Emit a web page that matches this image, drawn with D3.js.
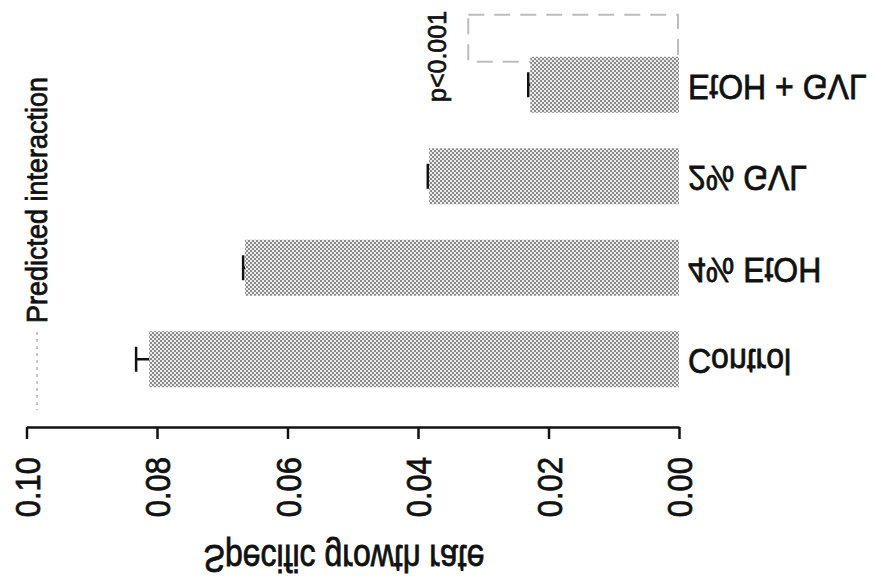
<!DOCTYPE html>
<html>
<head>
<meta charset="utf-8">
<script src="https://cdn.jsdelivr.net/npm/d3@7"></script>
<style>
  body { margin: 0; background: #fff; }
  svg { display: block; font-family: "Liberation Sans", Arial, sans-serif; }
  .lbl { fill: #111; stroke: #111; stroke-width: 0.7px; }
</style>
</head>
<body>
<svg id="chart" width="876" height="585"></svg>
<script>
"use strict";

// data
var categories = ["Control", "4% EtOH", "2% GVL", "EtOH + GVL"];
var growthRate = [0.0812, 0.0665, 0.0383, 0.0228];
var errors = [0.0020, 0.0003, 0.0002, 0.0003];
var predictedCategory = "EtOH + GVL";
var predictedRate = 0.0323;
var tickValues = [0, 0.02, 0.04, 0.06, 0.08, 0.10];

var svg = d3.select("#chart");

// value axis runs right to left, categories bottom to top
var x = d3.scaleLinear().domain([0, 0.1]).range([679, 26.5]);
var y = d3.scaleBand()
    .domain(categories.slice().reverse())
    .range([39, 405])
    .paddingInner(0.388)
    .paddingOuter(0.194);
var bw = y.bandwidth();

// halftone grey fill of the bars
var pat = svg.append("defs").append("pattern")
    .attr("id", "halftone")
    .attr("width", 4).attr("height", 4)
    .attr("patternUnits", "userSpaceOnUse");
pat.append("rect").attr("width", 4).attr("height", 4).attr("fill", "#ebebeb");
pat.append("rect").attr("x", 0).attr("y", 0).attr("width", 2).attr("height", 2).attr("fill", "#8c8c8c");
pat.append("rect").attr("x", 2).attr("y", 2).attr("width", 2).attr("height", 2).attr("fill", "#8c8c8c");

var rows = categories.map(function(c, i) {
    return {cat: c, val: growthRate[i], err: errors[i]};
});

// predicted interaction box (dashed), drawn under the bar
svg.append("rect")
    .attr("x", x(predictedRate))
    .attr("y", y(predictedCategory) - 0.75 * bw)
    .attr("width", x(0) - x(predictedRate) - 1)
    .attr("height", 0.84 * bw)
    .attr("fill", "none")
    .attr("stroke", "#bdbdbd")
    .attr("stroke-width", 2)
    .attr("stroke-dasharray", "16,10");

// bars
svg.append("g").selectAll("rect").data(rows).enter().append("rect")
    .attr("x", function(d) { return x(d.val); })
    .attr("y", function(d) { return y(d.cat); })
    .attr("width", function(d) { return x(0) - x(d.val); })
    .attr("height", bw)
    .attr("fill", "url(#halftone)");

// error bars (only the outer half shows)
var eb = svg.append("g").attr("stroke", "#111").attr("stroke-width", 2.5);
eb.selectAll("line.stem").data(rows).enter().append("line")
    .attr("class", "stem")
    .attr("x1", function(d) { return x(d.val); })
    .attr("x2", function(d) { return x(d.val + d.err); })
    .attr("y1", function(d) { return y(d.cat) + bw / 2; })
    .attr("y2", function(d) { return y(d.cat) + bw / 2; });
eb.selectAll("line.cap").data(rows).enter().append("line")
    .attr("class", "cap")
    .attr("x1", function(d) { return x(d.val + d.err); })
    .attr("x2", function(d) { return x(d.val + d.err); })
    .attr("y1", function(d) { return y(d.cat) + bw / 2 - 12.5; })
    .attr("y2", function(d) { return y(d.cat) + bw / 2 + 12.5; });

// value axis
var axis = svg.append("g")
    .attr("transform", "translate(0,427)")
    .call(d3.axisBottom(x).tickValues(tickValues).tickFormat(d3.format(".2f")).tickSize(12).tickSizeOuter(0));
axis.select(".domain").attr("stroke", "#111").attr("stroke-width", 2.5);
axis.selectAll(".tick line").attr("stroke", "#111").attr("stroke-width", 2.5);
axis.selectAll(".tick text")
    .attr("class", "lbl")
    .attr("x", 0).attr("y", 0).attr("dy", 0)
    .attr("text-anchor", "end")
    .style("font-size", "31px")
    .style("font-family", "'Liberation Sans', Arial, sans-serif")
    .attr("transform", "translate(12.5,30) rotate(-90) scale(1,1.12)");

// axis title, flipped upside down like the picture
svg.append("text")
    .attr("class", "lbl")
    .attr("transform", "translate(344,545) scale(1,-1.2)")
    .attr("text-anchor", "middle")
    .style("font-size", "32px")
    .text("Specific growth rate");

// category labels, also flipped
svg.append("g").selectAll("text").data(categories).enter().append("text")
    .attr("class", "lbl")
    .attr("transform", function(d) {
        return "translate(688," + (y(d) + bw / 2 - 10) + ") scale(1,-1.08)";
    })
    .style("font-size", "32px")
    .text(function(d) { return d; });

// legend: predicted interaction
svg.append("text")
    .attr("class", "lbl")
    .attr("transform", "translate(47,323) rotate(-90) scale(1,1.12)")
    .style("font-size", "27px")
    .text("Predicted interaction");
svg.append("line")
    .attr("x1", 37).attr("x2", 37)
    .attr("y1", 332).attr("y2", 410)
    .attr("stroke", "#b5b5b5")
    .attr("stroke-width", 1.5)
    .attr("stroke-dasharray", "3,4");

// significance
svg.append("text")
    .attr("class", "lbl")
    .attr("transform", "translate(446,102) rotate(-90)")
    .style("font-size", "25px")
    .text("p<0.001");
</script>
</body>
</html>
